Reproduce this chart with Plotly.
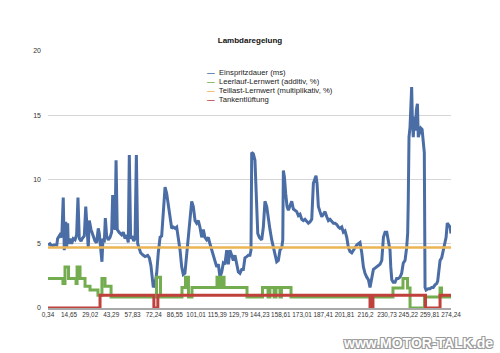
import plotly.graph_objects as go

# ---------------- data ----------------
series_names = ["Einspritzdauer (ms)", "Leerlauf-Lernwert (additiv, %)",
                "Teillast-Lernwert (multiplikativ, %)", "Tankentlüftung"]
series_colors = ["#4a6da5", "#74ad4f", "#ebb455", "#c0403b"]

tick_vals = [0.34, 14.65, 29.02, 43.29, 57.83, 72.24, 86.55, 101.01, 115.39, 129.79,
             144.23, 158.61, 173.01, 187.41, 201.81, 216.2, 230.73, 245.22, 259.81, 274.24]
tick_text = [f"{v:g}".replace(".", ",") for v in tick_vals]

t_einspritz = [0.34, 1.7, 3.1, 4.4, 6.3, 6.9, 8.5, 9.7, 10.7, 11.4, 12.4, 13.0, 13.7, 14.1, 15.3,
               16.4, 17.5, 18.7, 19.8, 20.7, 21.6, 22.8, 23.6, 25.0, 26.0, 26.8, 27.7, 28.4, 29.6,
               31.1, 32.3, 33.4, 34.5, 35.2, 36.4, 37.0, 37.7, 38.6, 39.3, 40.2, 41.3, 42.5, 43.6,
               44.3, 45.2, 45.9, 46.6, 47.4, 48.6, 50.4, 51.5, 52.7, 53.8, 54.9, 55.6, 56.5, 57.6,
               58.6, 59.5, 60.4, 61.3, 62.2, 63.3, 65.1, 66.3, 68.1, 69.2, 70.3, 71.2, 71.9, 73.1,
               74.2, 75.3, 76.5, 77.6, 78.7, 79.9, 81.0, 82.1, 83.3, 84.4, 85.5, 86.7, 87.8, 88.9,
               90.1, 91.2, 92.3, 93.4, 94.6, 95.7, 96.9, 98.0, 99.1, 100.3, 101.4, 102.5, 103.6,
               104.8, 105.9, 107.0, 108.2, 109.3, 110.4, 111.6, 112.7, 113.9, 115.0, 116.1, 117.2,
               118.4, 119.5, 120.6, 121.8, 122.9, 124.0, 125.2, 126.3, 127.4, 128.6, 129.7, 130.8,
               132.0, 133.1, 134.2, 135.4, 136.5, 137.6, 138.3, 138.8, 139.9, 141.0, 142.2, 142.9,
               144.0, 145.6, 146.7, 147.8, 149.0, 149.7, 150.5, 151.2, 152.4, 153.5, 154.6, 155.8,
               156.9, 158.0, 159.2, 159.9, 160.3, 161.0, 161.9, 162.8, 163.7, 164.8, 166.0, 167.1,
               168.2, 169.4, 170.5, 171.6, 172.8, 173.9, 175.0, 176.2, 177.3, 178.4, 179.6, 180.7,
               181.8, 182.5, 183.2, 184.1, 185.2, 186.4, 187.5, 188.6, 189.8, 190.9, 192.0, 193.2,
               194.3, 195.4, 196.6, 197.7, 198.8, 200.0, 201.1, 202.2, 203.4, 204.5, 205.6, 206.8,
               207.9, 210.2, 212.4, 213.6, 214.7, 215.8, 217.0, 218.1, 219.2, 220.4, 221.5, 222.6,
               223.8, 224.9, 226.0, 227.2, 228.3, 229.4, 230.6, 231.7, 232.8, 233.3, 234.0, 235.0,
               236.2, 237.3, 238.4, 239.6, 240.7, 241.8, 243.0, 244.1, 244.8, 245.2, 245.7, 246.4,
               246.9, 247.5, 248.0, 248.6, 249.3, 250.0, 250.7, 251.4, 252.0, 252.7, 253.7, 254.6,
               255.4, 256.1, 256.6, 257.3, 258.8, 260.0, 261.1, 262.2, 263.4, 264.5, 265.2, 265.9,
               266.8, 267.9, 269.0, 270.2, 270.9, 271.7, 272.7, 273.6, 274.24]
v_einspritz = [4.9, 5.0, 4.8, 4.9, 4.9, 5.4, 5.7, 5.5, 8.6, 4.5, 6.7, 4.7, 6.6, 5.0, 5.4,
               5.0, 5.4, 5.3, 5.7, 8.6, 5.4, 5.2, 5.4, 5.6, 7.9, 5.9, 4.7, 6.8, 6.1,
               5.6, 5.2, 5.1, 6.2, 5.8, 4.5, 3.6, 5.4, 5.1, 7.0, 5.6, 5.3, 5.5, 5.9,
               8.8, 6.4, 6.1, 11.5, 6.1, 5.9, 5.7, 5.9, 5.4, 5.7, 5.1, 11.9, 5.4, 5.6,
               5.2, 5.4, 11.9, 5.0, 4.7, 4.3, 4.1, 4.0, 4.1, 3.9, 3.3, 2.2, 1.6, 1.9,
               2.7, 4.3, 5.5, 5.6, 7.4, 9.4, 8.9, 7.9, 6.8, 6.2, 6.3, 6.2, 6.3, 5.5,
               4.5, 3.2, 2.6, 2.7, 4.3, 5.5, 6.8, 8.3, 7.9, 6.8, 6.6, 6.8, 6.3,
               5.5, 6.1, 5.5, 5.3, 5.5, 5.0, 4.5, 4.1, 3.7, 3.2, 3.4, 2.4,
               2.8, 3.5, 3.4, 4.5, 3.4, 4.5, 4.1, 3.7, 4.1, 3.5, 2.8, 2.7,
               3.0, 3.0, 3.9, 4.0, 4.1, 4.1, 4.5, 12.1, 12.0, 11.5, 8.4, 5.8,
               5.5, 5.3, 6.3, 8.3, 7.9, 7.2, 6.8, 6.1, 5.3, 4.7, 4.3, 3.6,
               3.7, 4.5, 4.7, 5.3, 10.7, 10.2, 8.9, 7.9, 7.6, 7.9, 8.3, 7.7,
               7.6, 7.5, 7.2, 7.3, 6.9, 6.8, 6.9, 6.7, 6.6, 6.7, 6.9, 9.7,
               10.2, 10.3, 9.7, 7.9, 7.5, 7.1, 7.3, 7.5, 7.1, 6.8, 6.9, 6.7,
               6.6, 6.6, 6.5, 6.3, 6.2, 6.3, 5.9, 6.0, 5.5, 4.7, 4.4, 4.3,
               4.5, 4.9, 5.1, 4.3, 3.2, 2.7, 2.4, 2.2, 1.6, 2.2, 3.0, 3.1,
               3.2, 3.3, 3.4, 3.7, 5.5, 5.9, 5.9, 5.2, 4.5, 3.2, 2.2, 2.0,
               2.0, 2.3, 2.3, 2.4, 2.7, 3.5, 3.7, 4.7, 5.8, 8.4, 13.3, 14.1,
               15.6, 17.2, 14.6, 13.3, 14.9, 13.8, 15.4, 15.9, 13.3, 13.7, 14.0, 13.9,
               13.1, 12.1, 1.6, 1.4, 1.5, 1.5, 1.6, 1.6, 1.8, 1.9, 2.1, 3.0,
               3.7, 3.9, 4.5, 4.9, 5.5, 6.6, 6.4, 6.3, 5.8]

t_leerlauf = [0.34, 10.5, 11.9, 14.3, 19.4, 20.1, 22.1, 25.5, 28.9, 34.3, 37.0, 39.1, 43.2,
              74.1, 76.8, 91.4, 93.8, 95.8, 98.2, 115.2, 117.2, 118.6, 120.0, 135.6, 146.1,
              149.9, 151.2, 154.0, 155.3, 158.0, 159.0, 165.5, 234.8, 241.6, 244.7, 246.4,
              256.2, 266.8, 267.8, 274.24]
v_leerlauf = [2.3, 1.9, 3.2, 2.3, 1.9, 3.2, 2.3, 1.7, 1.4, 1.0, 2.3, 1.7, 0.85,
              2.4, 0.85, 1.6, 2.4, 0.85, 1.6, 2.4, 1.6, 2.4, 1.6, 0.85, 1.6,
              0.85, 1.6, 0.85, 1.6, 0.85, 1.6, 0.85, 1.55, 2.3, 1.55, 0.0,
              0.85, 1.55, 0.85, 0.85]

t_teillast = [0.34, 274.24]
v_teillast = [4.7, 4.7]

t_tank = [0.34, 35.7, 72.3, 75.0, 219.2, 221.2, 256.9, 266.8, 274.24]
v_tank = [0.0, 1.0, 0.0, 1.0, 0.0, 1.0, 0.0, 1.0, 1.0]

y_ticks = [0, 5, 10, 15, 20]

# ---------------- figure ----------------
FONT = "Liberation Sans, Arial, sans-serif"
fig = go.Figure()
xs = [t_einspritz, t_leerlauf, t_teillast, t_tank]
ys = [v_einspritz, v_leerlauf, v_teillast, v_tank]
shapes_line = ["linear", "hv", "linear", "hv"]
widths = [3, 3, 2.5, 3]
for name, col, x, y, sh, w in zip(series_names, series_colors, xs, ys, shapes_line, widths):
    fig.add_trace(go.Scatter(x=x, y=y, name=name, mode="lines",
                             line=dict(color=col, width=w, shape=sh),
                             showlegend=False))

# compact legend drawn as text (short colored dash + label)
leg_y = [0.918, 0.883, 0.848, 0.813]
for name, col, yy in zip(series_names, series_colors, leg_y):
    fig.add_annotation(xref="paper", yref="paper", x=0.39, y=yy, xanchor="left", yanchor="middle",
                       showarrow=False,
                       text=f"<span style='color:{col}'><b>—</b></span>  {name}",
                       font=dict(family=FONT, size=7.7, color="#222222"))

fig.add_annotation(xref="paper", yref="paper", x=1.11, y=-0.136, xanchor="right", yanchor="middle",
                   showarrow=False, text="www.MOTOR-TALK.de",
                   font=dict(family=FONT, size=14, color="#ffffff", weight="bold",
                             shadow="1px 1px 0 #9a9a9a, -1px -1px 0 #9a9a9a, 1px -1px 0 #9a9a9a, -1px 1px 0 #9a9a9a"))

fig.update_layout(
    width=500, height=353,
    margin=dict(l=48, r=49, t=51, b=45),
    paper_bgcolor="white", plot_bgcolor="white",
    title=dict(text="Lambdaregelung", x=0.5, xanchor="center", y=0.887, yanchor="middle",
               yref="container", font=dict(family=FONT, size=8, color="#111111", weight="bold")),
    xaxis=dict(range=[0.34, 274.24], tickmode="array", tickvals=tick_vals, ticktext=tick_text,
               tickangle=0, showgrid=False, zeroline=False, showline=True, linecolor="#a8a8a8",
               linewidth=1.5, ticks="", tickfont=dict(family=FONT, size=6.4, color="#333333")),
    yaxis=dict(range=[0, 20], tickmode="array", tickvals=y_ticks, showgrid=True,
               gridcolor="#d6d6d6", gridwidth=1, zeroline=False, showline=False, ticks="",
               ticklabelstandoff=6, tickfont=dict(family=FONT, size=7, color="#333333")),
)

fig.write_html("out.html")
